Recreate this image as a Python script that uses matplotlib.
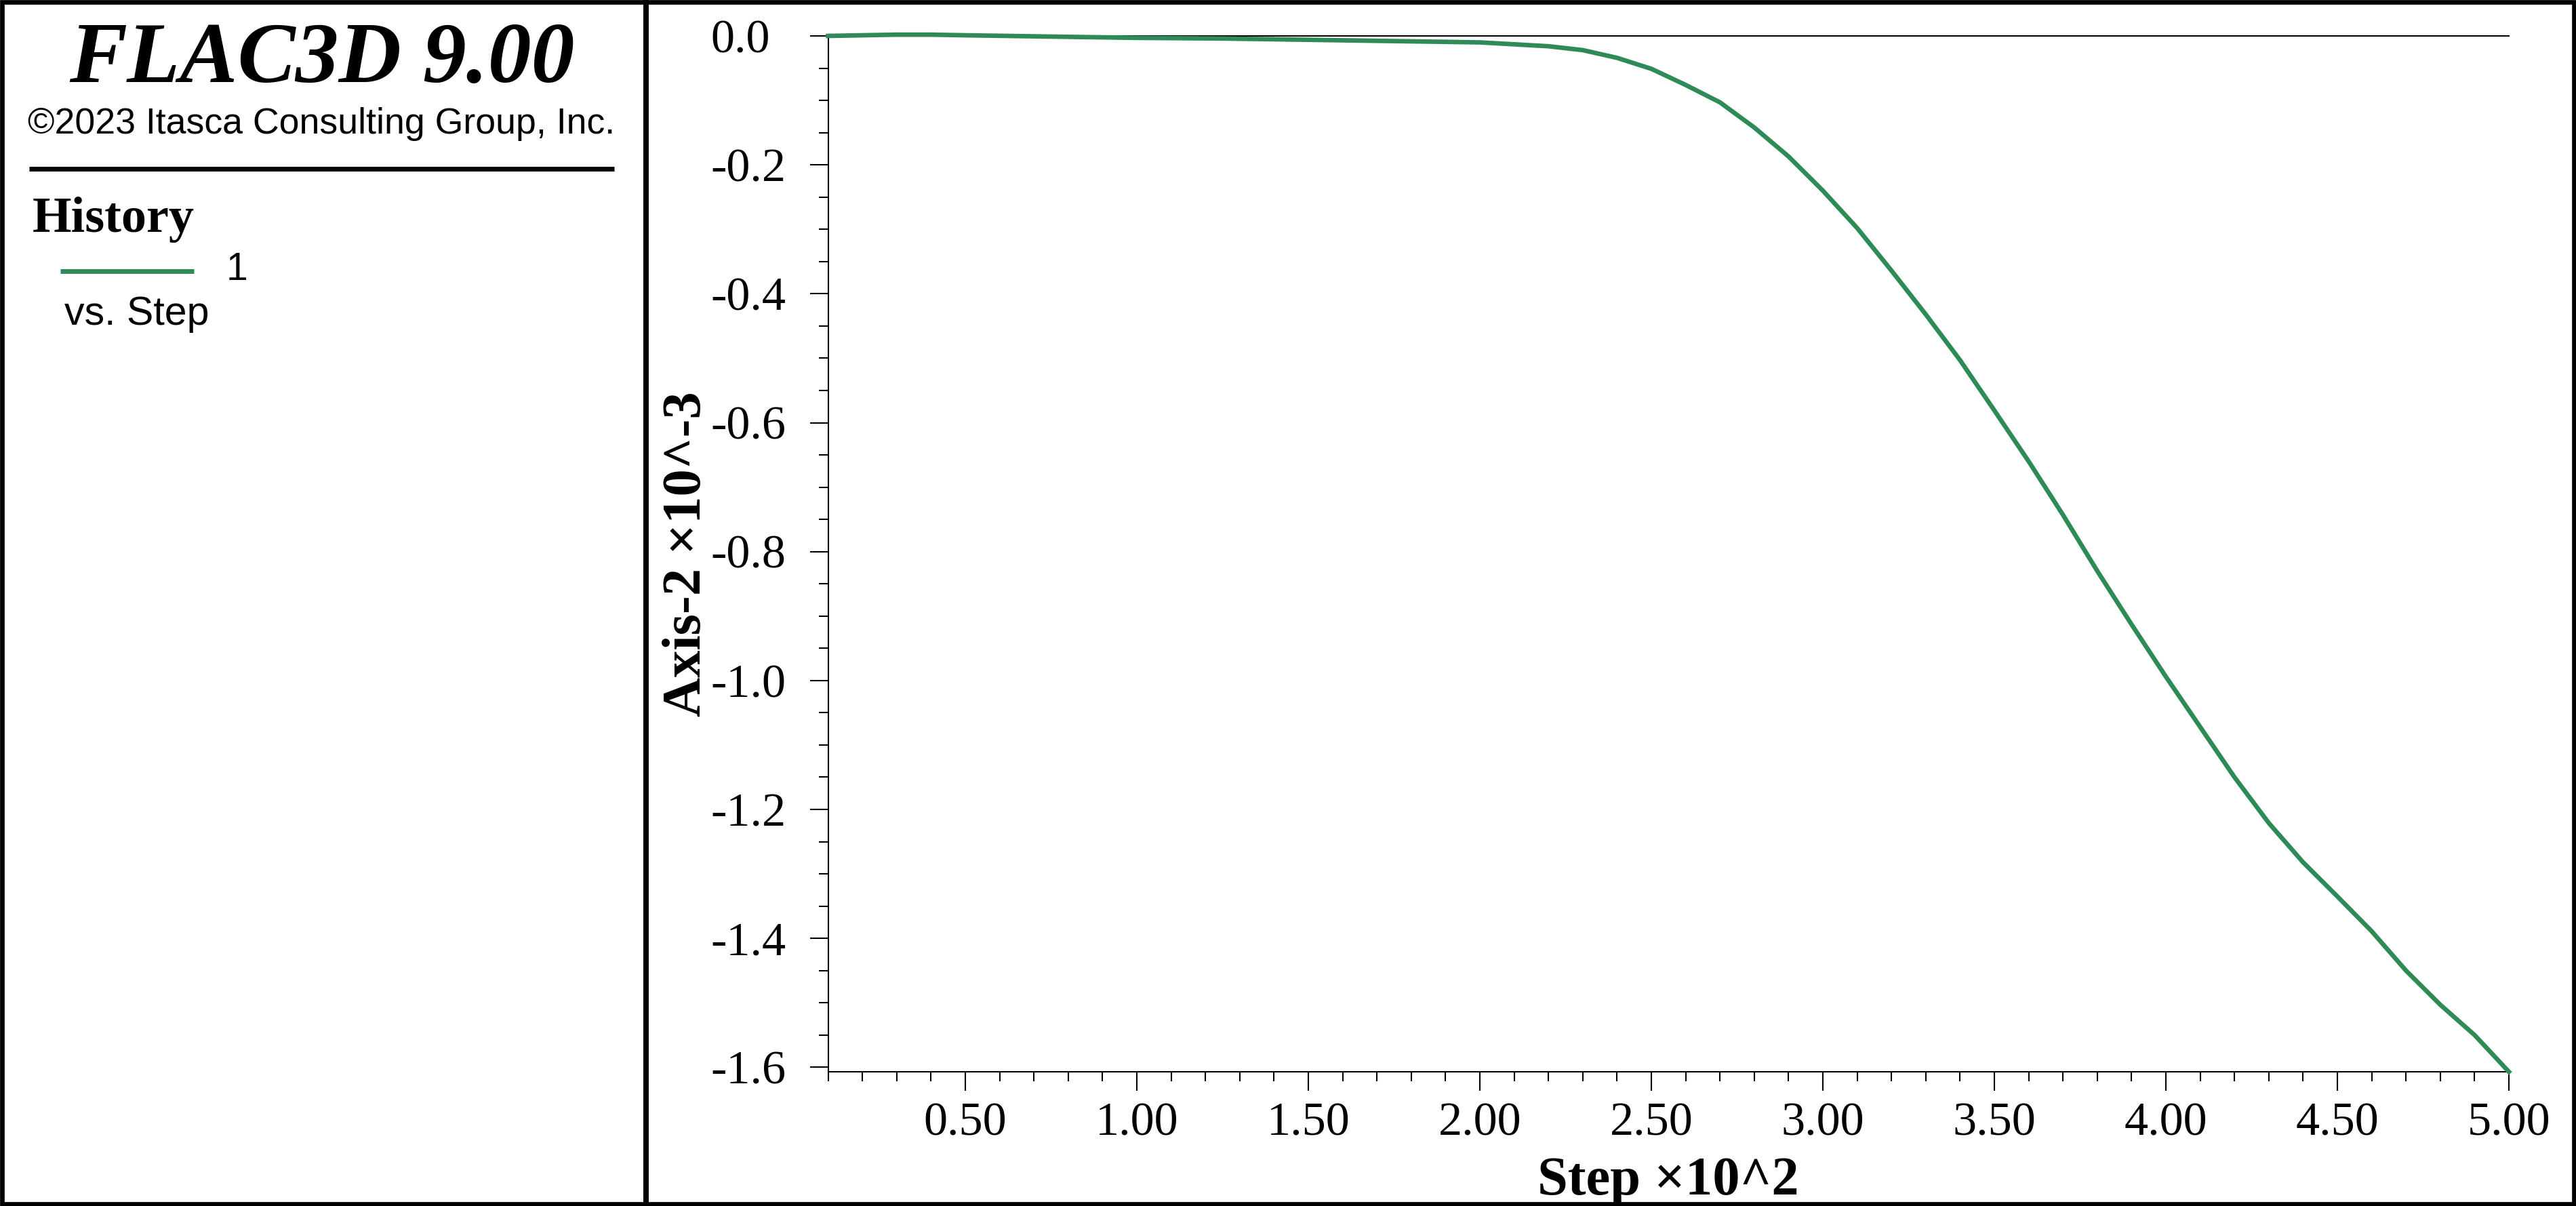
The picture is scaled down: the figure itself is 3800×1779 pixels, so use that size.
import matplotlib
matplotlib.use("Agg")
import matplotlib.pyplot as plt
from matplotlib.lines import Line2D
from matplotlib.patches import Rectangle
from matplotlib.ticker import MultipleLocator

plt.rcParams['font.family'] = ['Liberation Serif', 'DejaVu Serif']

# history 1: Axis-2 (x10^-3) vs step (x10^2)
steps = [0.10, 0.20, 0.30, 0.40, 0.50, 0.75, 1.00, 1.25, 1.50, 1.75, 2.00,
         2.10, 2.20, 2.30, 2.40, 2.50, 2.60, 2.70, 2.80, 2.90, 3.00, 3.10,
         3.20, 3.30, 3.40, 3.50, 3.60, 3.70, 3.80, 3.90, 4.00, 4.10, 4.20,
         4.30, 4.40, 4.50, 4.60, 4.70, 4.80, 4.90, 5.00]
axis2 = [0.000, 0.001, 0.002, 0.002, 0.001, -0.001, -0.003, -0.004, -0.006,
         -0.008, -0.010, -0.013, -0.016, -0.022, -0.034, -0.051, -0.076,
         -0.103, -0.142, -0.187, -0.240, -0.298, -0.364, -0.432, -0.503,
         -0.581, -0.660, -0.743, -0.830, -0.913, -0.994, -1.072, -1.150,
         -1.221, -1.282, -1.335, -1.389, -1.450, -1.503, -1.550, -1.607]

xticks = [0.5, 1.0, 1.5, 2.0, 2.5, 3.0, 3.5, 4.0, 4.5, 5.0]
xticklabels = ["0.50", "1.00", "1.50", "2.00", "2.50", "3.00", "3.50", "4.00", "4.50", "5.00"]
yticks = [0.0, -0.2, -0.4, -0.6, -0.8, -1.0, -1.2, -1.4, -1.6]
yticklabels = ["0.0", "-0.2", "-0.4", "-0.6", "-0.8", "-1.0", "-1.2", "-1.4", "-1.6"]

green = '#2E8B57'
W, H = 3800, 1779

def fx(px):
    return px / W

def fy(py):
    return 1 - py / H

fig = plt.figure(figsize=(W / 200, H / 200), dpi=200)

# plot area
ax = fig.add_axes([fx(1221.5), fy(1581), fx(3701) - fx(1221.5), fy(53) - fy(1581)])
ax.plot(steps, axis2, color=green, lw=2.4, clip_on=False, zorder=3)
ax.set_xlim(0.1, 5.0)
ax.set_ylim(-1.607, 0.0)

ax.spines['right'].set_visible(False)
for s in ['left', 'bottom', 'top']:
    ax.spines[s].set_linewidth(0.75)

ax.set_xticks(xticks)
ax.set_xticklabels(xticklabels)
ax.set_yticks(yticks)
ax.set_yticklabels(yticklabels)
ax.xaxis.set_minor_locator(MultipleLocator(0.1))
ax.yaxis.set_minor_locator(MultipleLocator(0.05))
ax.tick_params(which='major', direction='out', length=9.9, width=0.75, labelsize=25.3)
ax.tick_params(which='minor', direction='out', length=5.0, width=0.75)
ax.tick_params(axis='x', which='major', pad=6.3)
ax.tick_params(axis='y', which='major', pad=52.6)
ax.tick_params(top=False, right=False, which='both')
for lab in ax.get_yticklabels():
    lab.set_ha('left')

ax.set_xlabel("Step ×10^2", fontsize=29, fontweight='bold')
ax.xaxis.label.set_va('baseline')
ax.xaxis.set_label_coords(0.5, (1581 - 1762) / 1528)
ax.set_ylabel("Axis-2 ×10^-3", fontsize=29, fontweight='bold')
ax.yaxis.set_label_coords(-0.0692, 0.5)

# frame and divider
bw = 6.7
fig.add_artist(Rectangle((fx(bw / 2), 1 - (H - bw / 2) / H), fx(W - bw), (H - bw) / H,
                         transform=fig.transFigure, fill=False, ec='black',
                         lw=bw * 72 / 200, zorder=10))
fig.add_artist(Line2D([fx(953), fx(953)], [0, 1], transform=fig.transFigure,
                      color='black', lw=8 * 72 / 200, zorder=10))

# left info panel
fig.text(fx(475), fy(121), "FLAC3D 9.00", ha='center', va='baseline',
         fontsize=46, fontweight='bold', fontstyle='italic')
fig.text(fx(474), fy(197), "©2023 Itasca Consulting Group, Inc.", ha='center',
         va='baseline', fontsize=19.3, family=['Liberation Sans', 'DejaVu Sans'])
fig.add_artist(Line2D([fx(43), fx(906)], [fy(248.5), fy(248.5)], transform=fig.transFigure,
                      color='black', lw=7 * 72 / 200, solid_capstyle='butt'))
fig.text(fx(48), fy(342), "History", ha='left', va='baseline',
         fontsize=26.7, fontweight='bold')
fig.add_artist(Line2D([fx(89), fx(286)], [fy(400), fy(400)], transform=fig.transFigure,
                      color=green, lw=2.5, solid_capstyle='butt'))
fig.text(fx(334), fy(413), "1", ha='left', va='baseline', fontsize=20.5,
         family=['Liberation Sans', 'DejaVu Sans'])
fig.text(fx(95), fy(479), "vs. Step", ha='left', va='baseline', fontsize=21.3,
         family=['Liberation Sans', 'DejaVu Sans'])

fig.savefig('out.png', dpi=200)
